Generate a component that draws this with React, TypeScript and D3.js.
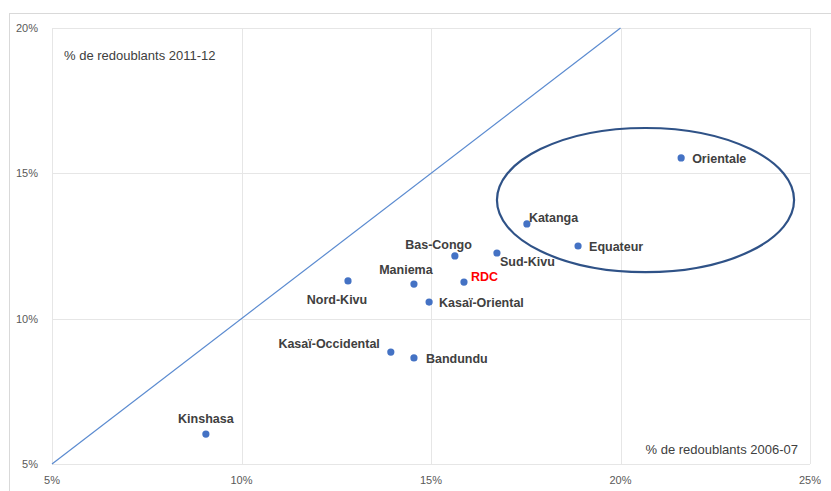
import React, { useRef, useEffect } from 'react';
import * as d3 from 'd3';

// provinces, % redoublants 2006-07 (x) and 2011-12 (y)
const provinces = [
  'Orientale', 'Katanga', 'Equateur', 'Sud-Kivu', 'Bas-Congo', 'RDC', 'Maniema',
  'Nord-Kivu', 'Kasaï-Oriental', 'Kasaï-Occidental', 'Bandundu', 'Kinshasa',
];
const rate2006 = [21.6, 17.53, 18.88, 16.74, 15.63, 15.87, 14.55, 12.81, 14.95, 13.94, 14.55, 9.06];
const rate2011 = [15.53, 13.26, 12.5, 12.26, 12.16, 11.26, 11.19, 11.3, 10.57, 8.85, 8.65, 6.03];

const xTicks = [5, 10, 15, 20, 25];
const yTicks = [5, 10, 15, 20];
const diagonal = [5, 20];

// ellipse highlighting the group: centre and radii in %
const ellipseCenter = [20.66, 14.08];
const ellipseRadius = [3.92, 2.48];

// label placement: anchor, dx, dy (pixels from the point)
const labelPlace: Record<string, [string, number, number]> = {
  'Orientale': ['start', 11, 5],
  'Katanga': ['start', 2, -2],
  'Equateur': ['start', 11, 5],
  'Sud-Kivu': ['start', 3, 13],
  'Bas-Congo': ['end', 17, -7],
  'RDC': ['start', 7, -1],
  'Maniema': ['middle', -8, -10],
  'Nord-Kivu': ['middle', -11, 23],
  'Kasaï-Oriental': ['start', 10, 5],
  'Kasaï-Occidental': ['end', -11, -4],
  'Bandundu': ['start', 12, 5],
  'Kinshasa': ['middle', 0, -11],
};

function App() {
  const ref = useRef<SVGSVGElement>(null);

  useEffect(() => {
    const svg = d3.select(ref.current);
    svg.selectAll('*').remove();

    const left = 52, right = 810, top = 28, bottom = 464;
    const font = '"Liberation Sans", Arial, sans-serif';

    const x = d3.scaleLinear().domain([5, 25]).range([left, right]);
    const y = d3.scaleLinear().domain([5, 20]).range([bottom, top]);

    // outer chart frame
    svg.append('rect')
      .attr('x', 9.5).attr('y', 13.5)
      .attr('width', 830).attr('height', 490)
      .attr('fill', 'white').attr('stroke', '#d9d9d9');

    // gridlines
    svg.append('g').selectAll('line').data(xTicks).join('line')
      .attr('x1', d => Math.round(x(d)) + 0.5).attr('x2', d => Math.round(x(d)) + 0.5)
      .attr('y1', top).attr('y2', bottom)
      .attr('stroke', '#e6e6e6');
    svg.append('g').selectAll('line').data(yTicks).join('line')
      .attr('y1', d => Math.round(y(d)) + 0.5).attr('y2', d => Math.round(y(d)) + 0.5)
      .attr('x1', left).attr('x2', right)
      .attr('stroke', '#e6e6e6');

    // tick labels
    svg.append('g').selectAll('text').data(xTicks).join('text')
      .attr('x', d => x(d)).attr('y', 484)
      .attr('text-anchor', 'middle')
      .attr('font-family', font).attr('font-size', 11).attr('fill', '#595959')
      .text(d => d + '%');
    svg.append('g').selectAll('text').data(yTicks).join('text')
      .attr('x', 38).attr('y', d => y(d) + 4)
      .attr('text-anchor', 'end')
      .attr('font-family', font).attr('font-size', 11).attr('fill', '#595959')
      .text(d => d + '%');

    // axis titles inside the plot
    svg.append('text')
      .attr('x', 64).attr('y', 60)
      .attr('font-family', font).attr('font-size', 13).attr('fill', '#404040')
      .text('% de redoublants 2011-12');
    svg.append('text')
      .attr('x', 798).attr('y', 454)
      .attr('text-anchor', 'end')
      .attr('font-family', font).attr('font-size', 13).attr('fill', '#404040')
      .text('% de redoublants 2006-07');

    // diagonal y = x
    svg.append('line')
      .attr('x1', x(diagonal[0])).attr('y1', y(diagonal[0]))
      .attr('x2', x(diagonal[1])).attr('y2', y(diagonal[1]))
      .attr('stroke', '#5b8bd0').attr('stroke-width', 1.2);

    // ellipse
    svg.append('ellipse')
      .attr('cx', x(ellipseCenter[0])).attr('cy', y(ellipseCenter[1]))
      .attr('rx', x(ellipseCenter[0] + ellipseRadius[0]) - x(ellipseCenter[0]))
      .attr('ry', y(ellipseCenter[1]) - y(ellipseCenter[1] + ellipseRadius[1]))
      .attr('fill', 'none').attr('stroke', '#2f5287').attr('stroke-width', 2.2);

    const points = provinces.map((p, i) => ({ name: p, vx: rate2006[i], vy: rate2011[i] }));

    svg.append('g').selectAll('circle').data(points).join('circle')
      .attr('cx', d => x(d.vx)).attr('cy', d => y(d.vy))
      .attr('r', 3.6).attr('fill', '#4472c4');

    svg.append('g').selectAll('text').data(points).join('text')
      .attr('x', d => x(d.vx) + labelPlace[d.name][1])
      .attr('y', d => y(d.vy) + labelPlace[d.name][2])
      .attr('text-anchor', d => labelPlace[d.name][0])
      .attr('font-family', font).attr('font-size', 12.5).attr('font-weight', 'bold')
      .attr('fill', d => (d.name === 'RDC' ? '#ff0000' : '#404040'))
      .text(d => d.name);
  }, []);

  return (
    <svg ref={ref} width={831} height={491}
      style={{ position: 'absolute', left: 0, top: 0, display: 'block' }} />
  );
}

export default App;
